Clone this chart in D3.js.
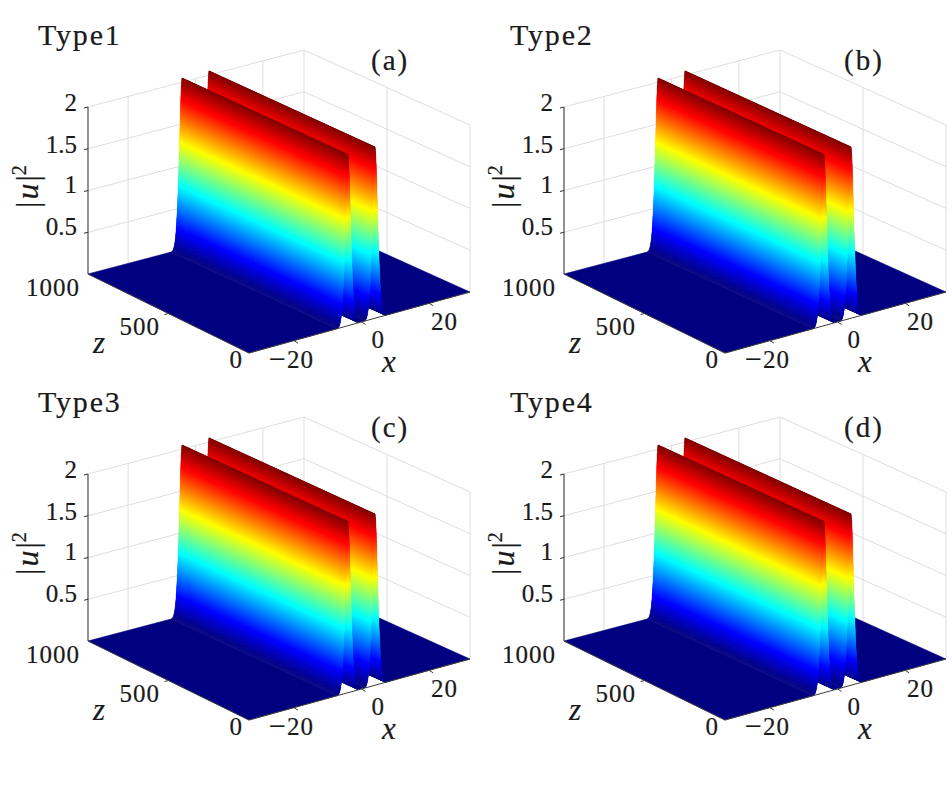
<!DOCTYPE html>
<html><head><meta charset="utf-8">
<script src="https://cdn.jsdelivr.net/npm/d3@7"></script>
<style>html,body{margin:0;background:#fff}svg{display:block}text{font-family:"Liberation Serif",serif;fill:#1a1a1a;stroke:#1a1a1a;stroke-width:.2}</style>
</head><body><svg id="c" width="952" height="790"></svg>
<script>
// data
const panelTitles = ["Type1","Type2","Type3","Type4"];
const panelTags = ["(a)","(b)","(c)","(d)"];
const xTicks = [-20,0,20];
const zTicks = [0,500,1000];
const uTicks = [0.5,1,1.5,2];
const uTickLabels = ["0.5","1","1.5","2"];
// transverse intensity profile |u|^2 against x (the same along all z)
const profileX = [-36,-7.25,-7,-6.75,-6.5,-6.25,-6,-5.75,-5.5,-5.25,-5,-4.75,-4.5,-4.25,-4,-3.75,-3.5,-3.25,-3,-2.75,-2.5,-2.25,-2,-1.75,-1.5,-1.25,-1,1,1.25,1.5,1.75,2,2.25,2.5,2.75,3,3.25,3.5,3.75,4,4.25,4.5,4.75,5,5.25,5.5,5.75,6,6.25,6.5,6.75,7,7.25,36];
const profileU = [0,0,0.003,0.012,0.03,0.07,0.13,0.24,0.41,0.62,0.9,1.25,1.62,1.93,2.05,1.93,1.62,1.25,0.9,0.62,0.41,0.24,0.13,0.07,0.03,0.012,0.003,0.003,0.012,0.03,0.07,0.13,0.24,0.41,0.62,0.9,1.25,1.62,1.93,2.05,1.93,1.62,1.25,0.9,0.62,0.41,0.24,0.13,0.07,0.03,0.012,0.003,0,0];

const svg = d3.select("#c");
const jet = d3.scaleLinear().domain([0,.125,.375,.625,.875,1].map(d=>d*2.05))
  .range(["#000080","#0000ff","#00ffff","#ffff00","#ff0000","#800000"]).clamp(true);

// projection of the 3-D box
const xFront = d3.scaleLinear().domain([-33.3,32.1]).range([0,1]).clamp(true);
const xBack  = d3.scaleLinear().domain([-31.9,32.2]).range([0,1]).clamp(true);
const zS = d3.scaleLinear().domain([0,1000]).range([0,1]);
const uS = d3.scaleLinear().domain([0,2]).range([0,-167]);
const A=[88,274],B=[249,353],C=[470,292],D=[304,217];
const mix=(a,b,t)=>a+(b-a)*t;
function pr(x,z,u){
  const s=zS(z);
  const t=mix(xFront(x),xBack(x),s);
  const fx=mix(B[0],C[0],t),fy=mix(B[1],C[1],t);
  const bx=mix(A[0],D[0],t),by=mix(A[1],D[1],t);
  return [mix(fx,bx,s),mix(fy,by,s)+uS(u)];
}
const uAt=d3.scaleLinear().domain(profileX).range(profileU);
const GRID="#dedede",AX="#3a3a3a";

function seg(g,a,b,c,w){g.append("line").attr("x1",a[0]).attr("y1",a[1]).attr("x2",b[0]).attr("y2",b[1]).attr("stroke",c).attr("stroke-width",w);}
function label(g,x,y,t,size,anchor,extra){
  const e=g.append("text").attr("x",x).attr("y",y).attr("font-size",size).attr("text-anchor",anchor||"start").text(t);
  if(extra)e.attr("letter-spacing",extra);
  return e;
}

panelTitles.forEach((title,i)=>{
  const dx=i%2*476, dy=(i>>1)*367;
  const root=svg.append("g");
  const g=root.append("g").attr("transform",`translate(${dx},${dy})`);
  const xMin=-36,xMax=36;
  // walls
  uTicks.forEach(u=>{
    seg(g,pr(xMin,1000,u),pr(xMax,1000,u),GRID,1);
    seg(g,pr(xMax,1000,u),pr(xMax,0,u),GRID,1);
  });
  xTicks.forEach(x=>seg(g,pr(x,1000,0),pr(x,1000,2),GRID,1));
  zTicks.forEach(z=>seg(g,pr(xMax,z,0),pr(xMax,z,2),GRID,1));
  seg(g,pr(xMin,1000,0),pr(xMax,1000,0),GRID,1);
  // surface, back to front, each strip one colour band
  const s=g.append("g");
  for(let k=profileX.length-2;k>=0;k--){
    const x0=profileX[k],x1=profileX[k+1],u0=profileU[k],u1=profileU[k+1];
    const n=Math.max(1,Math.ceil(Math.abs(u1-u0)*83.5*2.5));
    for(let j=n-1;j>=0;j--){
      const a=x0+(x1-x0)*j/n,b=x0+(x1-x0)*(j+1)/n;
      const ua=uAt(a),ub=uAt(b);
      const pts=[pr(a,0,ua),pr(b,0,ub),pr(b,1000,ub),pr(a,1000,ua)];
      const col=jet((ua+ub)/2);
      s.append("polygon").attr("points",pts.map(p=>p.map(v=>v.toFixed(2)).join(",")).join(" "))
       .attr("fill",col).attr("stroke",col).attr("stroke-width",0.5);
    }
  }
  // axes
  seg(g,pr(xMin,1000,0),pr(xMin,1000,2),AX,1.1);
  seg(g,pr(xMin,1000,0),pr(xMin,0,0),AX,1);
  seg(g,pr(xMin,0,0),pr(xMax,0,0),AX,1);
  xTicks.forEach(x=>{const a=pr(x,0,0);seg(g,a,[a[0]+4,a[1]+2.5],AX,1);});
  zTicks.slice(1,2).forEach(z=>{const a=pr(xMin,z,0);seg(g,a,[a[0]-4,a[1]+1],AX,1);});
  uTicks.forEach(u=>{const a=pr(xMin,1000,u);seg(g,a,[a[0]-4,a[1]+1],AX,1.1);});
  // tick labels
  const fs=25;
  const uBase=[235,193,153,111];
  uTicks.forEach((u,j)=>label(g,77,uBase[j],uTickLabels[j],fs,"end"));
  label(g,80,296,"1000",fs,"end",1);
  label(g,160,335,"500",fs,"end",1);
  label(g,242,368,"0",fs,"end");
  const neg=g.append("text").attr("x",314).attr("y",368).attr("font-size",fs).attr("text-anchor","end").attr("letter-spacing",1);
  neg.append("tspan").attr("font-size",30).attr("dy",1).text("\u2212");
  neg.append("tspan").attr("dy",-1).text("20");
  label(g,384,348,"0",fs,"end");
  label(g,458,330,"20",fs,"end",1);
  // axis titles
  label(g,93,353,"z",31).attr("font-style","italic");
  label(g,382,372,"x",31).attr("font-style","italic");
  const yl=g.append("text").attr("transform","translate(38,208) rotate(-90)").attr("font-size",32);
  yl.append("tspan").text("|");
  yl.append("tspan").attr("font-style","italic").attr("dx",2).text("u");
  yl.append("tspan").attr("dx",2).text("|");
  yl.append("tspan").attr("font-size",20).attr("dy",-12).text("2");
  // panel tag and title
  label(root,371+(i%2)*473,70+dy,panelTags[i],29,"start",2);
  label(root,38+(i%2)*472,45+dy,title,30,"start",1.8);
});
</script></body></html>
